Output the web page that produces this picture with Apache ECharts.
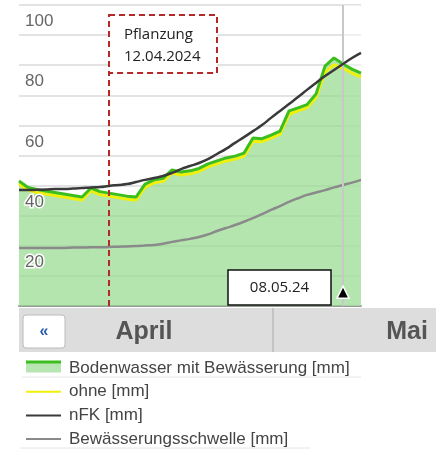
<!DOCTYPE html>
<html><head><meta charset="utf-8">
<script src="https://cdn.jsdelivr.net/npm/echarts@6/dist/echarts.min.js"></script>
<style>html,body{margin:0;padding:0;background:#fff}#c{width:436px;height:450px}</style>
</head><body><div id="c"></div>
<script>
// ---- data ----
const dates = ['02.04','03.04','04.04','05.04','06.04','07.04','08.04','09.04','10.04','11.04',
  '12.04','13.04','14.04','15.04','16.04','17.04','18.04','19.04','20.04','21.04',
  '22.04','23.04','24.04','25.04','26.04','27.04','28.04','29.04','30.04','01.05',
  '02.05','03.05','04.05','05.05','06.05','07.05','08.05','09.05','10.05'];
const bodenwasser = [41.5,39.4,38.7,38.2,37.7,37.2,36.7,36.2,39.2,38.0,
  37.5,37.0,36.5,36.2,40.5,41.9,42.4,45.2,44.5,44.9,
  45.7,47.2,48.2,49.2,49.8,50.8,55.8,55.6,56.8,58.1,
  64.8,65.8,66.9,70.4,79.7,82.4,80.4,78.7,77.4];
const ohne = [40.6,38.5,37.7,37.2,36.7,36.2,35.7,35.2,38.3,37.0,
  36.5,36.0,35.5,35.2,39.4,40.9,41.4,44.2,43.5,43.9,
  44.7,46.2,47.2,48.2,48.8,49.8,54.7,54.6,55.8,57.1,
  63.7,64.8,65.9,69.3,77.7,80.1,79.0,77.4,76.1];
const nfk = [38.5,38.5,38.6,38.7,38.9,38.9,39.0,39.2,39.4,39.5,
  39.9,40.2,40.5,41.2,41.9,42.5,43.2,44.2,45.5,46.5,
  47.5,48.8,50.5,52.2,54.2,56.1,58.1,60.1,62.5,64.8,
  67.1,69.4,71.8,74.1,76.4,78.4,80.4,82.4,84.1];
const schwelle = [19.3,19.3,19.3,19.3,19.3,19.3,19.4,19.4,19.5,19.5,
  19.6,19.7,19.8,19.9,20.1,20.3,20.7,21.3,21.8,22.3,
  22.9,23.8,24.9,25.9,26.9,28.0,29.2,30.5,31.9,33.2,
  34.6,35.8,36.9,37.7,38.5,39.4,40.2,41.0,41.9];
const yLabels = [20,40,60,80,100];
const names = ['Bodenwasser mit Bewässerung [mm]','ohne [mm]','nFK [mm]','Bewässerungsschwelle [mm]'];
const plantingDate = '12.04';
const plantingText = ['Pflanzung','12.04.2024'];
const todayDate = '08.05';
const todayText = '08.05.24';
const months = ['April','Mai'];
const navText = '«';

const C = {green:'#3cbf1e', fill:'rgba(150,218,140,0.7)', fillIcon:'#b8e6b2', yellow:'#f0f00a', nfk:'#3a3a3a', schwelle:'#8a8a8a', red:'#b42828'};
const hideSym = {color:'rgba(0,0,0,0)', borderWidth:0};

const yBase = {type:'value', min:0, max:100, interval:10, axisLine:{show:false}, axisTick:{show:false}};

const option = {
  animation:false,
  grid:{left:19, right:75, top:5, bottom:144},
  xAxis:{type:'category', data:dates, boundaryGap:false,
    axisLine:{lineStyle:{color:'#999', width:2}}, axisTick:{show:false}, axisLabel:{show:false}, splitLine:{show:false}},
  yAxis:[
    Object.assign({}, yBase, {z:0, axisLabel:{show:false}, splitLine:{lineStyle:{color:'#dadada', width:1.5}}}),
    Object.assign({}, yBase, {position:'left', z:20, splitLine:{show:false},
      axisLabel:{inside:true, margin:6, align:'left', verticalAlign:'top', padding:[8,0,0,0],
        fontFamily:'Liberation Sans', fontSize:17, color:'#666',
        textBorderColor:'#fff', textBorderWidth:3,
        formatter:v => yLabels.includes(v) ? String(v) : ''}})
  ],
  legend:{orient:'vertical', left:25, top:358.5, height:92, padding:0, itemWidth:35, itemHeight:9, itemGap:4.7,
    selectedMode:false,
    textStyle:{fontFamily:'Liberation Sans', fontSize:17, color:'#444', lineHeight:19, padding:[0,0,0,3]},
    data:[
      {name:names[0], icon:'rect', itemStyle:{color:C.fillIcon, shadowColor:C.green, shadowOffsetY:-3, shadowBlur:0}},
      {name:names[1], itemStyle:hideSym},
      {name:names[2], itemStyle:hideSym},
      {name:names[3], itemStyle:hideSym}
    ]},
  series:[
    {type:'line', name:'_fill', data:bodenwasser, symbol:'none', lineStyle:{width:0}, areaStyle:{color:C.fill, opacity:1}, z:1, silent:true},
    {type:'line', name:names[3], data:schwelle, symbol:'none', smooth:true, lineStyle:{color:C.schwelle, width:2.5}, itemStyle:{color:C.schwelle}, z:2},
    {type:'line', name:names[1], data:ohne, symbol:'none', lineStyle:{color:C.yellow, width:3}, itemStyle:{color:C.yellow}, z:3},
    {type:'line', name:names[0], data:bodenwasser, symbol:'none', lineStyle:{color:C.green, width:3}, itemStyle:{color:C.green}, z:4},
    {type:'line', name:names[2], data:nfk, symbol:'none', smooth:true, lineStyle:{color:C.nfk, width:2.5}, itemStyle:{color:C.nfk}, z:5},
    {type:'line', name:'_marks', data:[], z:6, silent:true,
      markArea:{silent:true, itemStyle:{color:'rgba(255,255,255,0.4)'}, data:[[{xAxis:todayDate},{xAxis:dates[dates.length-1]}]]},
      markLine:{silent:true, symbol:'none', label:{show:false}, data:[
        {xAxis:todayDate, lineStyle:{color:'#c8c8c8', width:2, type:'solid'}},
        [{coord:[plantingDate, 0], lineStyle:{color:C.red, width:2, type:[6,4]}}, {coord:[plantingDate, 77.4]}]
      ]},
      markPoint:{silent:true, label:{show:false}, data:[
        {coord:[todayDate, 4.6], symbol:'triangle', symbolSize:[12,12], itemStyle:{color:'#000', borderColor:'#fff', borderWidth:1.5}}
      ]}
    }
  ]
};

const chart = echarts.init(document.getElementById('c'), null, {renderer:'canvas'});
chart.setOption(option);

const px = (d, v) => chart.convertToPixel({xAxisIndex:0, yAxisIndex:0}, [d, v]);
const [pX, boxTop] = px(plantingDate, 96.7);
const boxBottom = px(plantingDate, 77.4)[1];
const [tX, axisY] = px(todayDate, 0);

chart.setOption({graphic:[
  // Pflanzung annotation box
  {type:'rect', z:100, shape:{x:pX, y:boxTop, width:108, height:boxBottom-boxTop},
    style:{fill:'#fff', stroke:C.red, lineWidth:2, lineDash:[6,4]}},
  {type:'text', z:101, style:{x:pX+15, y:boxTop+20, text:plantingText[0], font:'15px "Open Sans"', fill:'#222', verticalAlign:'middle'}},
  {type:'text', z:101, style:{x:pX+15, y:boxTop+42, text:plantingText[1], font:'15px "Open Sans"', fill:'#222', verticalAlign:'middle'}},
  // today date box
  {type:'rect', z:100, shape:{x:tX-115, y:axisY-36, width:103, height:35},
    style:{fill:'#fff', stroke:'#111', lineWidth:1.5}},
  {type:'text', z:101, style:{x:tX-63.5, y:axisY-18, text:todayText, font:'15px "Open Sans"', fill:'#222', align:'center', verticalAlign:'middle'}},
  // month navigation bar
  {type:'rect', z:100, shape:{x:19, y:308, width:417, height:44}, style:{fill:'#dddddd'}},
  {type:'line', z:101, shape:{x1:273, y1:308, x2:273, y2:352}, style:{stroke:'#bbb', lineWidth:1.5}},
  {type:'rect', z:101, shape:{x:23, y:315, width:42, height:33, r:3}, style:{fill:'#fff', stroke:'#bbb', lineWidth:1}},
  {type:'text', z:102, style:{x:44, y:332, text:navText, font:'bold 16px "Liberation Sans"', fill:'#2a5db0', align:'center', verticalAlign:'middle'}},
  {type:'text', z:102, style:{x:144, y:332, text:months[0], font:'bold 25px "Liberation Sans"', fill:'#555', align:'center', verticalAlign:'middle'}},
  {type:'text', z:102, style:{x:407, y:332, text:months[1], font:'bold 25px "Liberation Sans"', fill:'#555', align:'center', verticalAlign:'middle'}},
  // legend separators
  {type:'line', z:1, shape:{x1:22, y1:377, x2:361, y2:377}, style:{stroke:'#e6e6e6', lineWidth:1}},
  {type:'line', z:1, shape:{x1:20, y1:448, x2:310, y2:448}, style:{stroke:'#e6e6e6', lineWidth:1}}
]});
</script>
</body></html>
